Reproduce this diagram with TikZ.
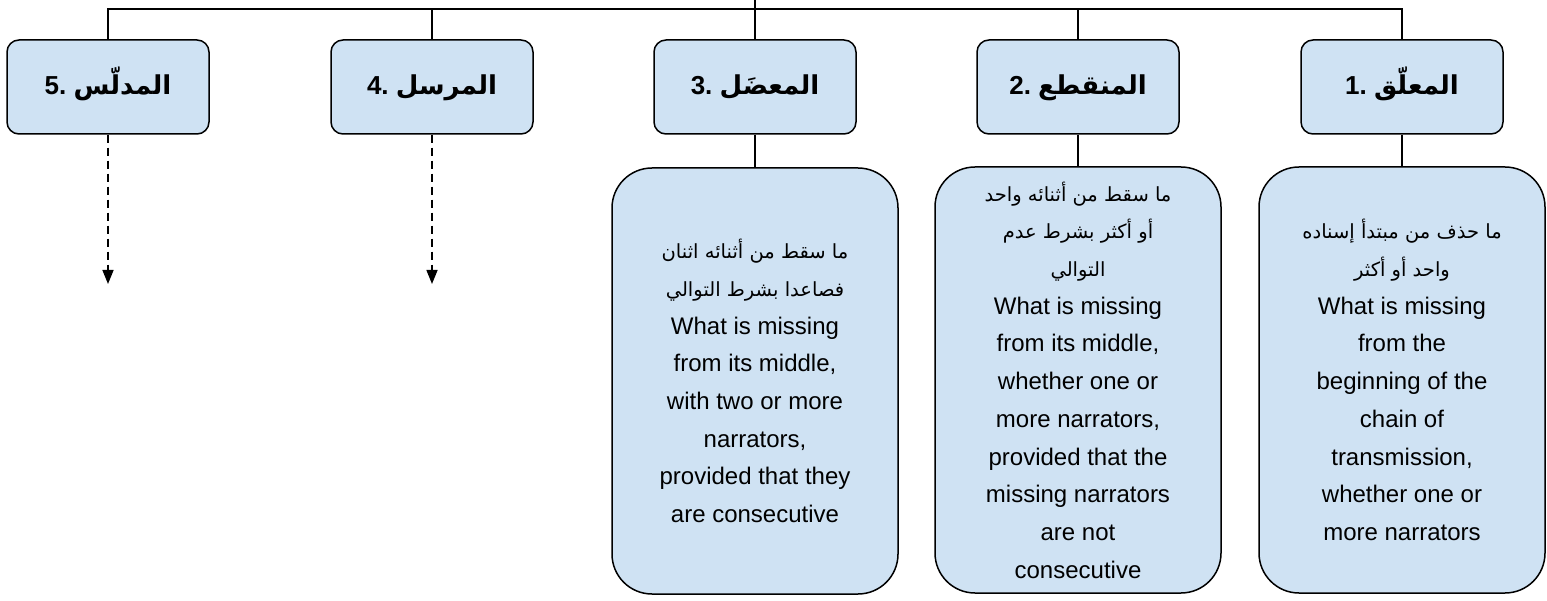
\documentclass[tikz,border=0pt]{standalone}
\usepackage{fontspec}
\setmainfont{Liberation Sans}
\newfontfamily\arabicfont[Script=Arabic]{DejaVu Sans}
\TeXXeTstate=1
\usetikzlibrary{arrows.meta}
\definecolor{boxblue}{HTML}{CFE2F3}
\newcommand{\ar}[1]{{\arabicfont\fontsize{19.5}{37.7}\selectfont\beginR #1\endR}}
\newcommand{\arh}[1]{\hbox{\arabicfont\bfseries #1}}
\newcommand{\hd}[2]{\hbox{#1.\ }\arh{#2}}
\tikzset{
  conn/.style={line width=1.5pt, draw=black},
  headbox/.style={draw=black, line width=1.5pt, fill=boxblue, rounded corners=12pt,
    minimum width=202pt, minimum height=94pt, inner sep=0pt,
    text height=22pt, text depth=6pt,
    font=\fontsize{26}{30}\selectfont\bfseries},
  descbox/.style={draw=black, line width=1.5pt, fill=boxblue, rounded corners=40pt,
    minimum width=286pt, minimum height=426pt, inner sep=0pt, align=center,
    font=\fontsize{24}{37.7}\selectfont},
  dasharrow/.style={conn, dash pattern=on 8pt off 5pt, -{Triangle[length=14pt,width=11pt]}}
}
\begin{document}
\begin{tikzpicture}[x=1pt,y=-1pt]
\useasboundingbox (0,0) rectangle (1547,601);
\node[headbox] (h5) at (108,87) {\hd{5}{المدلّس}};
\node[headbox] (h4) at (432,87) {\hd{4}{المرسل}};
\node[headbox] (h3) at (755,87) {\hd{3}{المعضَل}};
\node[headbox] (h2) at (1078,87) {\hd{2}{المنقطع}};
\node[headbox] (h1) at (1402,87) {\hd{1}{المعلّق}};
\node[descbox] (d3) at (755,381) {\ar{ما سقط من أثنائه اثنان}\\\ar{فصاعدا بشرط التوالي}\\What is missing\\from its middle,\\with two or more\\narrators,\\provided that they\\are consecutive};
\node[descbox] (d2) at (1078,380) {\ar{ما سقط من أثنائه واحد}\\\ar{أو أكثر بشرط عدم}\\\ar{التوالي}\\What is missing\\from its middle,\\whether one or\\more narrators,\\provided that the\\missing narrators\\are not\\consecutive};
\node[descbox] (d1) at (1402,380) {\ar{ما حذف من مبتدأ إسناده}\\\ar{واحد أو أكثر}\\What is missing\\from the\\beginning of the\\chain of\\transmission,\\whether one or\\more narrators};
\coordinate (top) at (755,0);
\coordinate (bus) at (755,9);
\coordinate (e5) at (108,284);
\coordinate (e4) at (432,284);
\draw[conn] (h5.north) |- (bus) -| (h1.north);
\draw[conn] (top) -- (bus);
\draw[conn] (h4.north) -- (h4.north |- bus);
\draw[conn] (h3.north) -- (bus);
\draw[conn] (h2.north) -- (h2.north |- bus);
\draw[conn] (h3.south) -- (d3.north);
\draw[conn] (h2.south) -- (d2.north);
\draw[conn] (h1.south) -- (d1.north);
\draw[dasharrow] (h5.south) -- (e5);
\draw[dasharrow] (h4.south) -- (e4);
\end{tikzpicture}
\end{document}
